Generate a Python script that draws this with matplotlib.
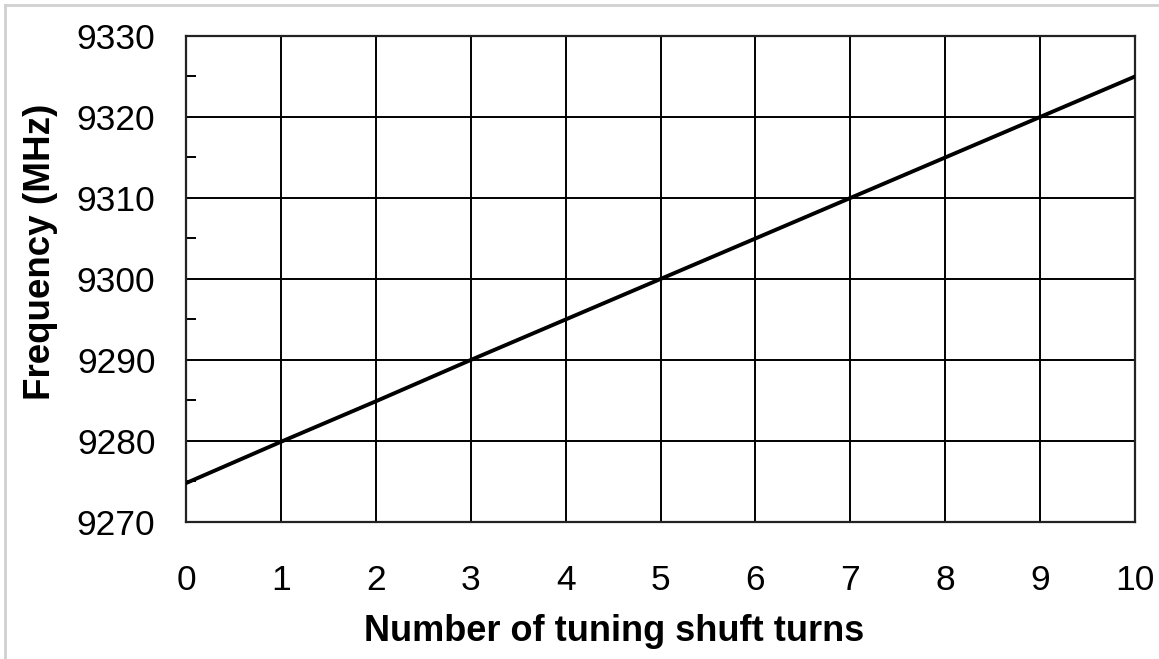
import matplotlib.pyplot as plt
from matplotlib.lines import Line2D
from matplotlib.ticker import MultipleLocator

plt.rcParams['font.family'] = ['Liberation Sans', 'DejaVu Sans']

# data
turns = [0, 1, 2, 3, 4, 5, 6, 7, 8, 9, 10]
freq_mhz = [9274.8, 9279.9, 9284.9, 9290.0, 9295.0, 9300.0,
            9305.0, 9310.0, 9315.0, 9320.0, 9325.0]
x_ticks = list(range(0, 11))
y_ticks = [9270, 9280, 9290, 9300, 9310, 9320, 9330]

fig = plt.figure(figsize=(11.59, 6.59), dpi=100)
ax = fig.add_axes([0.1605, 0.2079, 0.8188, 0.7375])

ax.plot(turns, freq_mhz, color="black", lw=2.8, zorder=3)

ax.set_xlim(0, 10)
ax.set_ylim(9270, 9330)
ax.set_xticks(x_ticks)
ax.set_yticks(y_ticks)
ax.yaxis.set_minor_locator(MultipleLocator(5))
ax.grid(True, which="major", color="black", lw=1.4)
for s in ax.spines.values():
    s.set_color("#222222")
    s.set_linewidth(1.6)

ax.tick_params(axis="x", which="major", length=0, pad=30, labelsize=25.5)
ax.tick_params(axis="y", which="major", length=0, pad=22, labelsize=25.5)
ax.tick_params(axis="y", which="minor", direction="in", length=7, width=1.4, color="black")

ax.set_xlabel("Number of tuning shuft turns", fontsize=26, fontweight="bold")
ax.set_ylabel("Frequency (MHz)", fontsize=26.5, fontweight="bold")
# labels sit a little off-centre in the original
ax.xaxis.set_label_coords(0.451, -0.19)
ax.yaxis.set_label_coords(-0.135, 0.556)

# thin grey frame of the original screenshot (left and top edges)
fig.add_artist(Line2D([5 / 1159, 5 / 1159], [0, 1 - 5 / 659], transform=fig.transFigure,
                      color="#d0d0d0", lw=2))
fig.add_artist(Line2D([5 / 1159, 1], [1 - 5 / 659, 1 - 5 / 659], transform=fig.transFigure,
                      color="#d0d0d0", lw=2))

fig.savefig("out.png", dpi=100)
